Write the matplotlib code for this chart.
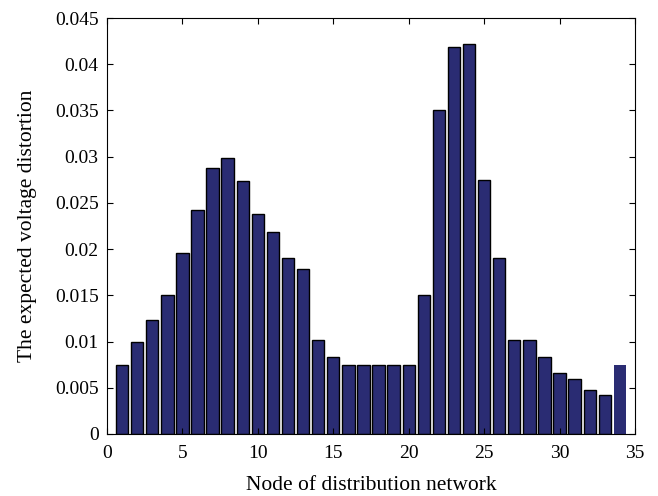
import matplotlib
matplotlib.use("Agg")
import matplotlib.pyplot as plt
import numpy as np

nodes = list(range(1, 35))
distortion = [0.0075, 0.0100, 0.0123, 0.0150, 0.0196, 0.0242, 0.0288, 0.0299,
              0.0274, 0.0238, 0.0218, 0.0190, 0.0178, 0.0102, 0.0083, 0.0075,
              0.0075, 0.0075, 0.0075, 0.0075, 0.0150, 0.0350, 0.0419, 0.0422,
              0.0275, 0.0190, 0.0102, 0.0102, 0.0083, 0.0066, 0.0059, 0.0048,
              0.0042, 0.0075]
xticks = [0, 5, 10, 15, 20, 25, 30, 35]
yticks = [0, 0.005, 0.01, 0.015, 0.02, 0.025, 0.03, 0.035, 0.04, 0.045]
ytick_labels = ["0", "0.005", "0.01", "0.015", "0.02", "0.025", "0.03", "0.035", "0.04", "0.045"]

plt.rcParams['font.family'] = ['Liberation Serif', 'DejaVu Serif']

fig = plt.figure(figsize=(6.58, 4.96), dpi=100)
ax = fig.add_axes([0.1626, 0.125, 0.8024, 0.8387])

color = '#2a2c73'
edges = ['black'] * (len(nodes) - 1) + ['none']
ax.bar(nodes, distortion, width=0.82, color=color, edgecolor=edges, linewidth=1.0)

ax.set_xlim(0, 35)
ax.set_ylim(0, 0.045)
ax.set_xticks(xticks)
ax.set_yticks(yticks)
ax.set_yticklabels(ytick_labels)
ax.tick_params(direction='in', top=True, right=True, labelsize=14, length=4, width=0.8)
ax.tick_params(axis='x', pad=8)
ax.tick_params(axis='y', pad=6)
for s in ax.spines.values():
    s.set_linewidth(0.8)

ax.set_xlabel('Node of distribution network', fontsize=15.5, labelpad=10)
ax.set_ylabel('The expected voltage distortion', fontsize=15.5, labelpad=13)

fig.savefig('out.png', dpi=100)
